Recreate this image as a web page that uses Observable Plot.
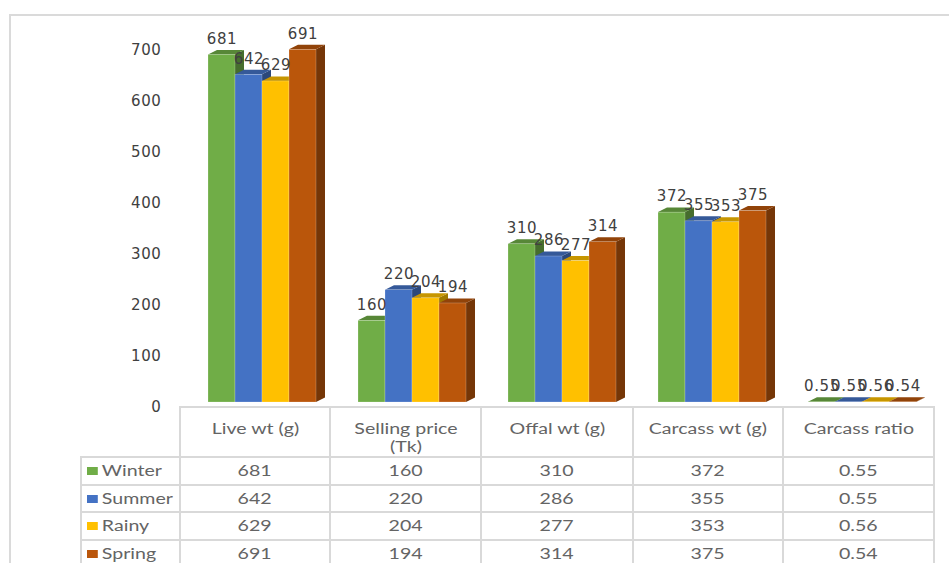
<!DOCTYPE html>
<html>
<head>
<meta charset="utf-8">
<script src="https://cdn.jsdelivr.net/npm/d3@7"></script>
<script src="https://cdn.jsdelivr.net/npm/@observablehq/plot@0.6"></script>
<style>
  body { margin: 0; background: #fff; }
  #wrap { position: relative; width: 949px; height: 563px; overflow: hidden; background: #fff; }
  #frame { position: absolute; left: 9px; top: 14px; width: 980px; height: 600px;
           border-left: 2px solid #dadada; border-top: 2px solid #dadada; box-sizing: border-box; }
  #chart { position: absolute; left: 0; top: 0; }
  #chart svg text { letter-spacing: 0.6px; }
  table { position: absolute; left: 80px; top: 406px; border-collapse: collapse; table-layout: fixed;
          font-family: Lato, "Open Sans", sans-serif; font-size: 14.5px; color: #646464; }
  td { border: 2px solid #d9d9d9; text-align: center; padding: 0; line-height: 20px; white-space: normal; }
  td.corner { border-top: none; border-left: none; }
  tr.head td { height: 47px; vertical-align: top; padding-top: 12px; line-height: 18px; box-sizing: border-box; }
  tr.row td { height: 25.7px; vertical-align: middle; }
  .s { display: inline-block; transform: scaleX(1.35); transform-origin: center; }
  .hs { display: inline-block; max-width: 98px; transform: scaleX(1.35); transform-origin: center top; }
  td.leg { text-align: left; padding-left: 5px; }
  .ls { display: inline-block; transform: scaleX(1.35); transform-origin: left center; white-space: nowrap; }
  .sw { display: inline-block; width: 8px; height: 8px; margin-right: 3px; vertical-align: 1px; }
</style>
</head>
<body>
<div id="wrap">
  <div id="frame"></div>
  <div id="chart"></div>
</div>
<script>
// ---- data ----
const categories = ["Live wt (g)", "Selling price (Tk)", "Offal wt (g)", "Carcass wt (g)", "Carcass ratio"];
const seasons = ["Winter", "Summer", "Rainy", "Spring"];
const winter = [681, 160, 310, 372, 0.55];
const summer = [642, 220, 286, 355, 0.55];
const rainy  = [629, 204, 277, 353, 0.56];
const spring = [691, 194, 314, 375, 0.54];
const seasonColors = ["#70AD47", "#4472C4", "#FFC000", "#BA560B"];
const yTicks = [0, 100, 200, 300, 400, 500, 600, 700];

const series = [winter, summer, rainy, spring];
const rows = categories.flatMap((c, ci) =>
  seasons.map((s, si) => ({ category: c, season: s, value: series[si][ci] })));

// 3D box renderer: front face + top face + right side face
function box3d(index, scales, values) {
  const X = values.x, Y1 = values.y1, Y2 = values.y2, F = values.fill;
  const w = scales.x.bandwidth();
  const ddx = 9, ddy = 4.5;
  const g = d3.create("svg:g");
  for (const i of index) {
    const x0 = X[i], x1 = x0 + w, yb = Y1[i], yt = Y2[i];
    const c = d3.color(F[i]);
    g.append("path")
      .attr("d", `M${x1},${yt}L${x1 + ddx},${yt - ddy}L${x1 + ddx},${yb - ddy}L${x1},${yb}Z`)
      .attr("fill", c.darker(1.3));
    g.append("path")
      .attr("d", `M${x0},${yt}L${x0 + ddx},${yt - ddy}L${x1 + ddx},${yt - ddy}L${x1},${yt}Z`)
      .attr("fill", c.darker(0.7));
    g.append("rect")
      .attr("x", x0).attr("y", yt).attr("width", w).attr("height", Math.max(0, yb - yt))
      .attr("fill", c.formatHex())
      .attr("stroke", "#ffffff").attr("stroke-opacity", 0.35).attr("stroke-width", 0.6);
  }
  return g.node();
}

const chart = Plot.plot({
  width: 949,
  height: 410,
  marginLeft: 206,
  marginRight: 33,
  marginTop: 44.7,
  marginBottom: 8,
  style: { background: "transparent", fontFamily: "DejaVu Sans, sans-serif", fontSize: "15px", overflow: "visible" },
  fx: { domain: categories, paddingInner: 0.2745, paddingOuter: 0, axis: null, label: null },
  x: { domain: seasons, padding: 0, axis: null },
  y: { domain: [0, 700], axis: null },
  color: { domain: seasons, range: seasonColors },
  marks: [
    Plot.axisY(yTicks, { tickSize: 0, tickPadding: 46, dy: 5, fontSize: 15, fill: "#404040", label: null }),
    Plot.barY(rows, { fx: "category", x: "season", y: "value", fill: "season", render: box3d }),
    Plot.text(rows, { fx: "category", x: "season", y: "value", text: d => String(d.value),
                      dy: -16, fontSize: 15, fill: "#404040" })
  ]
});
document.getElementById("chart").appendChild(chart);

// ---- data table below the chart ----
const table = document.createElement("table");
const colg = document.createElement("colgroup");
[99, 150, 151, 152, 150, 151].forEach(w => {
  const col = document.createElement("col"); col.style.width = w + "px"; colg.appendChild(col);
});
table.appendChild(colg);
const head = document.createElement("tr"); head.className = "head";
const corner = document.createElement("td"); corner.className = "corner"; head.appendChild(corner);
categories.forEach(c => {
  const td = document.createElement("td");
  const sp = document.createElement("span"); sp.className = "hs"; sp.textContent = c;
  td.appendChild(sp); head.appendChild(td);
});
table.appendChild(head);
seasons.forEach((s, si) => {
  const tr = document.createElement("tr"); tr.className = "row";
  const lt = document.createElement("td"); lt.className = "leg";
  const ls = document.createElement("span"); ls.className = "ls";
  const sw = document.createElement("span"); sw.className = "sw"; sw.style.background = seasonColors[si];
  ls.appendChild(sw); ls.appendChild(document.createTextNode(s));
  lt.appendChild(ls); tr.appendChild(lt);
  series[si].forEach(v => {
    const td = document.createElement("td");
    const sp = document.createElement("span"); sp.className = "s"; sp.textContent = String(v);
    td.appendChild(sp); tr.appendChild(td);
  });
  table.appendChild(tr);
});
document.getElementById("wrap").appendChild(table);
</script>
</body>
</html>
